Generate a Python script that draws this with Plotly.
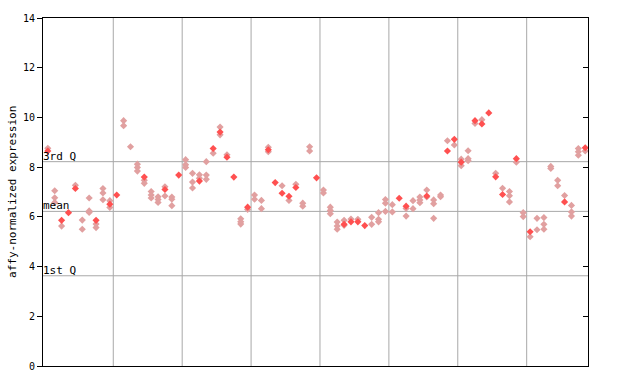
import plotly.graph_objects as go

# per-sample values (79 samples); filled markers and dithered (hollow) markers
filled = [
    [8.65], [], [5.86], [6.17], [7.14], [], [], [5.86], [], [6.51],
    [6.88], [], [], [], [7.6], [], [], [7.1], [], [7.68],
    [], [], [7.44], [], [8.75], [9.41], [8.4], [7.6], [], [6.39],
    [], [], [8.7], [7.38], [6.95], [6.83], [7.18], [], [], [7.57],
    [], [], [], [5.7], [5.8], [5.8], [5.65], [], [], [],
    [], [6.75], [6.43], [], [], [6.84], [], [], [8.65], [9.12],
    [8.2], [], [9.87], [9.74], [10.18], [7.61], [6.9], [], [8.34], [],
    [5.4], [], [], [], [], [6.6], [], [], [8.78],
]
hollow = [
    [8.76], [7.05, 6.77, 6.58], [5.63], [], [7.27], [5.87, 5.5], [6.76, 6.24, 6.18], [5.71, 5.57], [7.14, 6.96, 6.69], [6.65, 6.38],
    [], [9.87, 9.67], [8.82], [8.12, 7.99, 7.84], [7.47, 7.35], [7.02, 6.88, 6.76], [6.81, 6.7, 6.58], [7.21, 6.84], [6.8, 6.71, 6.45], [],
    [8.3, 8.1, 7.99], [7.75, 7.4, 7.16], [7.69, 7.55], [8.22, 7.68, 7.51], [8.56], [9.61, 9.3], [8.5], [], [5.92, 5.8, 5.71], [6.3],
    [6.88, 6.71], [6.66, 6.33], [8.8, 8.62], [], [7.25], [6.66], [7.31], [6.55, 6.43], [8.82, 8.65], [],
    [7.08, 6.96], [6.39, 6.26, 6.13], [5.79, 5.63, 5.5], [5.86, 5.66], [5.91], [5.9], [], [5.98, 5.7], [6.17, 5.9, 5.8], [6.7, 6.55, 6.22],
    [6.49, 6.2], [], [6.34, 6.03], [6.65, 6.33], [6.8, 6.68, 6.57], [7.08, 6.8], [6.68, 6.53, 5.94], [6.88, 6.81], [9.06], [8.89],
    [8.32, 8.06], [8.66, 8.34, 8.26], [9.76], [9.91], [], [7.75], [7.15], [7.02, 6.85, 6.6], [8.2], [6.17, 6.01],
    [5.2], [5.94, 5.48], [5.97, 5.7, 5.5], [8.03, 7.95], [7.47, 7.25], [6.86], [6.46, 6.2, 6.03], [8.75, 8.62, 8.48], [8.65],
]
group_bounds = [9.5, 19.5, 29.5, 39.5, 49.5, 59.5, 69.5]
quartiles = {"3rd Q": 8.22, "mean": 6.22, "1st Q": 3.63}
y_ticks = [0, 2, 4, 6, 8, 10, 12, 14]

def flatten(groups):
    xs, ys = [], []
    for i, vals in enumerate(groups):
        for v in vals:
            xs.append(i)
            ys.append(v)
    return xs, ys

hx, hy = flatten(hollow)
fx, fy = flatten(filled)

fig = go.Figure()
fig.add_trace(go.Scatter(x=hx, y=hy, mode="markers",
                         marker=dict(symbol="diamond", size=5.5, color="rgb(225,160,160)",
                                     line=dict(width=0)),
                         showlegend=False, hoverinfo="skip"))
fig.add_trace(go.Scatter(x=fx, y=fy, mode="markers",
                         marker=dict(symbol="diamond", size=5.5, color="rgb(255,80,80)",
                                     line=dict(width=0)),
                         showlegend=False, hoverinfo="skip"))
# dummy trace for right axis
fig.add_trace(go.Scatter(x=[None], y=[None], yaxis="y2", showlegend=False))

shapes = []
for gb in group_bounds:
    shapes.append(dict(type="line", xref="x", yref="paper", x0=gb, x1=gb, y0=0, y1=1,
                       line=dict(color="#a8a8a8", width=1), layer="below"))
annotations = []
for name, val in quartiles.items():
    shapes.append(dict(type="line", xref="paper", yref="y", x0=0, x1=1, y0=val, y1=val,
                       line=dict(color="#a8a8a8", width=1), layer="below"))
    annotations.append(dict(text=name, x=0, xref="paper", y=val, yref="y",
                            xanchor="left", yanchor="bottom", showarrow=False,
                            yshift=-3, xshift=-2,
                            font=dict(family="DejaVu Sans Mono", size=11, color="black")))
annotations.append(dict(text="affy-normalized expression", textangle=-90,
                        x=-0.057, xref="paper", y=0.5, yref="paper",
                        xanchor="center", yanchor="middle", showarrow=False,
                        font=dict(family="DejaVu Sans Mono", size=11, color="black")))

fig.update_layout(
    width=640, height=384,
    margin=dict(l=43, r=52, t=14, b=14),
    paper_bgcolor="white", plot_bgcolor="white",
    shapes=shapes, annotations=annotations,
    xaxis=dict(range=[-0.7, 78.4], showgrid=False, zeroline=False, showticklabels=False,
               ticks="", showline=True, linecolor="black", linewidth=1, mirror=True),
    yaxis=dict(range=[0, 14], tickvals=y_ticks, showgrid=False, zeroline=False,
               ticks="outside", ticklen=5, tickcolor="black",
               showline=True, linecolor="black", linewidth=1,
               tickfont=dict(family="DejaVu Sans Mono", size=10, color="black")),
    yaxis2=dict(range=[0, 14], tickvals=y_ticks, overlaying="y", side="right",
                showgrid=False, zeroline=False, showticklabels=False,
                ticks="inside", ticklen=5, tickcolor="black",
                showline=True, linecolor="black", linewidth=1),
)
fig.write_html("out.html", config={"displayModeBar": False},
               post_script="document.body.style.margin='0';document.body.style.padding='0';")
